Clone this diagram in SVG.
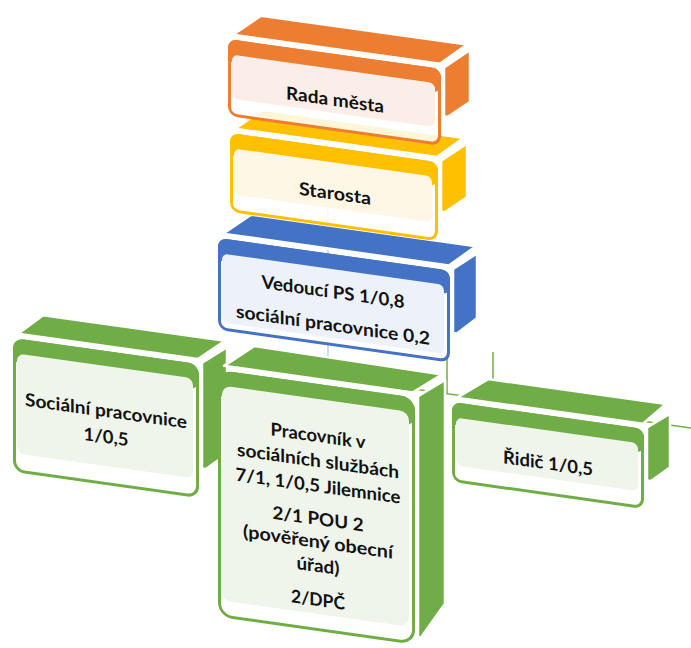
<svg xmlns="http://www.w3.org/2000/svg" width="691" height="648" viewBox="0 0 691 648">
<style>
.t{font-family:Lato,"Noto Sans","DejaVu Sans",sans-serif;font-weight:700;font-size:18px;fill:#111;text-anchor:middle}
.face{stroke:#fff;stroke-width:2.5;stroke-linejoin:round}
.frame{fill:#fff;fill-opacity:.85;stroke-width:3}
.conn{fill:none;stroke:#70AD47;stroke-width:1.5}
.connl{fill:none;stroke:#A9C9E0;stroke-width:1.2}
</style>
<g id="connectors">
  <line class="connl" x1="328" y1="190" x2="328" y2="372"/>
  <line class="conn" x1="328" y1="377" x2="691" y2="428"/>
  <line class="conn" x1="447" y1="358" x2="447" y2="394"/>
  <line class="conn" x1="493" y1="352" x2="493" y2="400"/>
</g>

<g id="social" transform="translate(13,338) skewY(8)">
  <polygon class="face" fill="#70AD47" points="5,-5 30,-27 212,-27 185,-5"/>
  <polygon class="face" fill="#70AD47" points="189,-2 214,-21 214,86 193,104 189,104"/>
  <rect class="frame" x="1.5" y="1.5" width="183" height="131" rx="10" stroke="#70AD47"/>
  <rect x="0" y="0" width="186" height="26" rx="10" fill="#70AD47"/>
  <rect x="4" y="15" width="176" height="100" rx="7" fill="#EFF5EB"/>
  <text class="t" x="93" y="66" textLength="162" lengthAdjust="spacingAndGlyphs">Sociální pracovnice</text>
  <text class="t" x="93" y="92" textLength="45" lengthAdjust="spacingAndGlyphs">1/0,5</text>
</g>

<g id="ridic" transform="translate(452,402) skewY(8)">
  <polygon class="face" fill="#70AD47" points="5,-5 36,-28 214,-28 191,-5"/>
  <polygon class="face" fill="#70AD47" points="195,-2 218,-19 218,35 199,51 195,51"/>
  <rect class="frame" x="1.5" y="1.5" width="189" height="77" rx="8" stroke="#70AD47"/>
  <rect x="0" y="0" width="192" height="24" rx="8" fill="#70AD47"/>
  <rect x="4" y="15" width="182" height="48" rx="6" fill="#EFF5EB"/>
  <text class="t" x="96" y="54" textLength="90" lengthAdjust="spacingAndGlyphs">Řidič 1/0,5</text>
</g>

<g id="pracovnik" transform="translate(218,370) skewY(8)">
  <polygon class="face" fill="#70AD47" points="6,-5 36,-29 224,-27 195,-5"/>
  <polygon class="face" fill="#70AD47" points="200,-2 227,-22 227,202 203,239 200,239"/>
  <rect class="frame" x="1.5" y="1.5" width="194" height="244" rx="13" stroke="#70AD47"/>
  <rect x="0" y="0" width="197" height="30" rx="13" fill="#70AD47"/>
  <rect x="4" y="15" width="187" height="215" rx="9" fill="#EFF5EB"/>
  <text class="t" x="100" y="58" textLength="95" lengthAdjust="spacingAndGlyphs">Pracovník v</text>
  <text class="t" x="100" y="83" textLength="162" lengthAdjust="spacingAndGlyphs">sociálních službách</text>
  <text class="t" x="100" y="108" textLength="165" lengthAdjust="spacingAndGlyphs">7/1, 1/0,5 Jilemnice</text>
  <text class="t" x="100" y="141" textLength="91" lengthAdjust="spacingAndGlyphs">2/1 POU 2</text>
  <text class="t" x="100" y="164" textLength="150" lengthAdjust="spacingAndGlyphs">(pověřený obecní</text>
  <text class="t" x="100" y="188" textLength="43" lengthAdjust="spacingAndGlyphs">úřad)</text>
  <text class="t" x="100" y="222" textLength="54" lengthAdjust="spacingAndGlyphs">2/DPČ</text>
</g>

<g id="vedouci" transform="translate(218,238) skewY(8)">
  <polygon class="face" fill="#4472C4" points="5,-5 33,-28 258,-28 231,-5"/>
  <polygon class="face" fill="#4472C4" points="235,-2 259,-21 259,44 239,62 235,62"/>
  <rect class="frame" x="1.5" y="1.5" width="229" height="89" rx="8" stroke="#4472C4"/>
  <rect x="0" y="0" width="232" height="24" rx="8" fill="#4472C4"/>
  <rect x="4" y="15" width="222" height="69" rx="6" fill="#EDF1F9"/>
  <text class="t" x="115" y="44" textLength="143" lengthAdjust="spacingAndGlyphs">Vedoucí PS 1/0,8</text>
  <text class="t" x="115" y="77" textLength="194" lengthAdjust="spacingAndGlyphs">sociální pracovnice 0,2</text>
</g>

<g id="starosta" transform="translate(230,133) skewY(8)">
  <polygon class="face" fill="#FFC000" points="5,-5 33,-28 234,-28 207,-5"/>
  <polygon class="face" fill="#FFC000" points="211,-2 237,-23 237,31 215,49 211,49"/>
  <rect class="frame" x="1.5" y="1.5" width="205" height="76" rx="8" stroke="#FFC000"/>
  <rect x="0" y="0" width="208" height="24" rx="8" fill="#FFC000"/>
  <rect x="4" y="15" width="198" height="46" rx="6" fill="#FFF7E5"/>
  <text class="t" x="105" y="52" textLength="72" lengthAdjust="spacingAndGlyphs">Starosta</text>
</g>

<g id="rada" transform="translate(228,39) skewY(8)">
  <polygon class="face" fill="#ED7D31" points="5,-5 33,-28 239,-28 212,-5"/>
  <polygon class="face" fill="#ED7D31" points="216,-2 242,-23 242,29 220,47 216,47"/>
  <rect class="frame" x="1.5" y="1.5" width="210" height="74" rx="8" stroke="#ED7D31"/>
  <rect x="0" y="0" width="213" height="24" rx="8" fill="#ED7D31"/>
  <rect x="4" y="15" width="203" height="44" rx="6" fill="#FBEEE8"/>
  <text class="t" x="107" y="52" textLength="98" lengthAdjust="spacingAndGlyphs">Rada města</text>
</g>
</svg>
